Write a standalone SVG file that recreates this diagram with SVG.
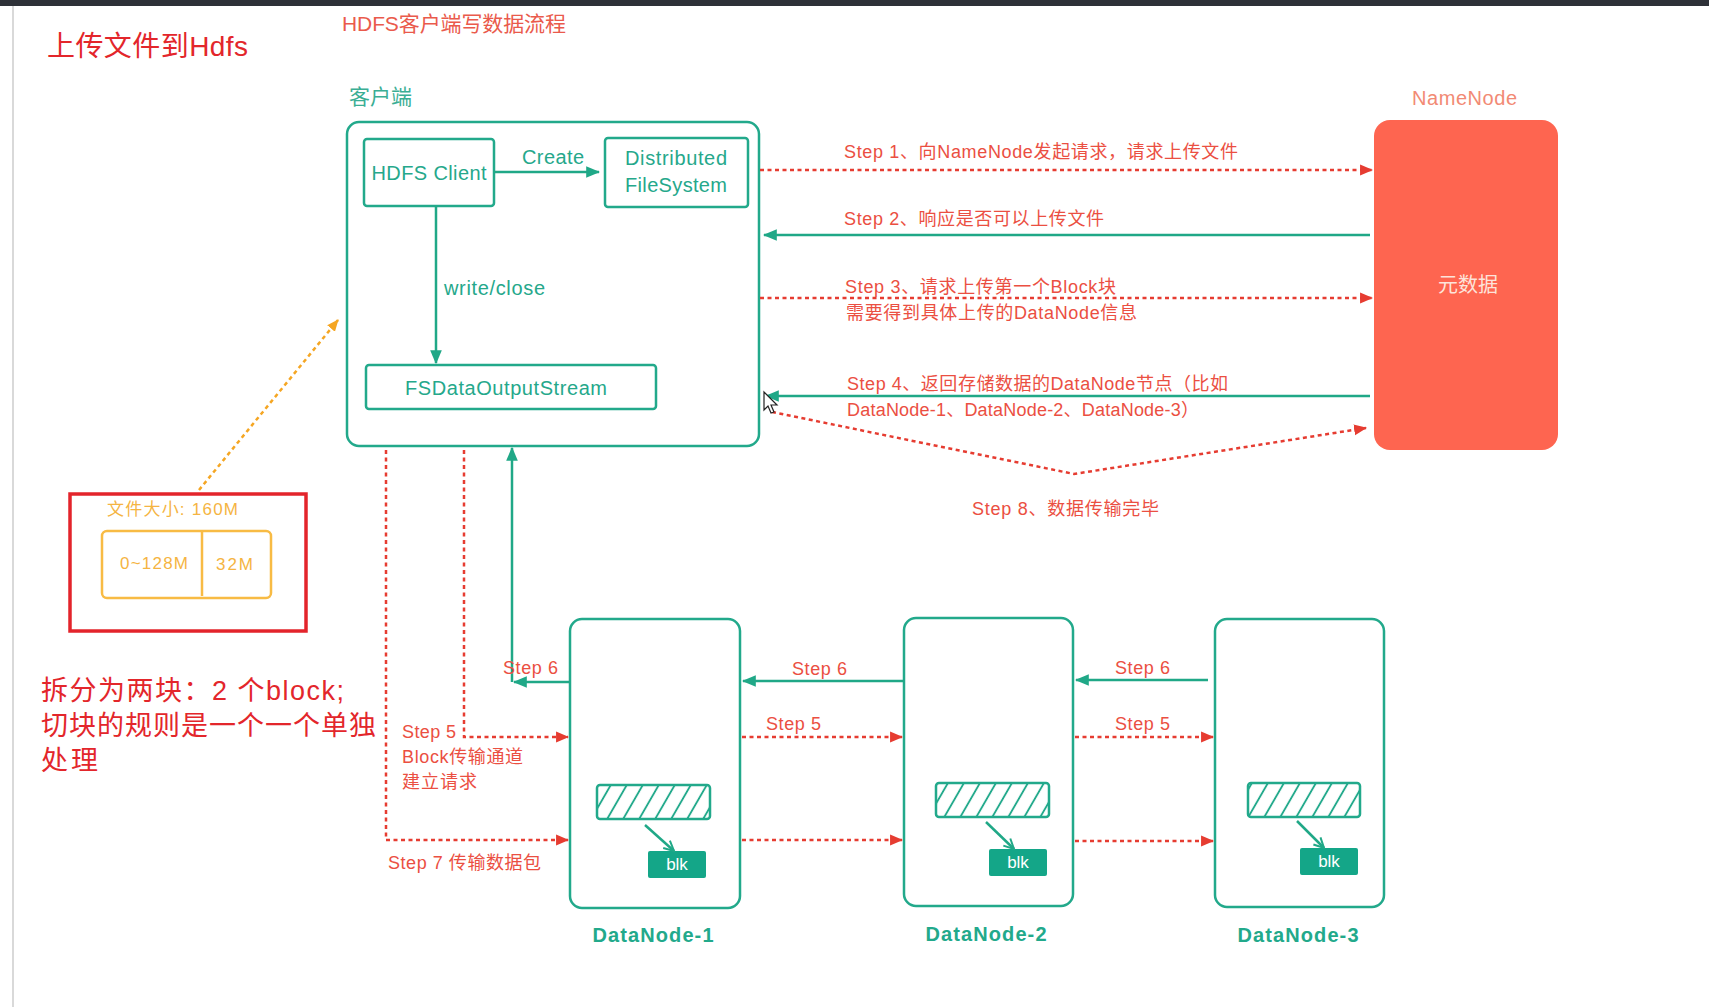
<svg xmlns="http://www.w3.org/2000/svg" width="1709" height="1007" viewBox="0 0 1709 1007">
<style>
  text { font-family: "Liberation Sans", "Noto Sans CJK SC", sans-serif; }
  .box { fill: #ffffff; stroke: #22a98b; stroke-width: 2.5; }
  .tl { fill: #25a88b; font-size: 20px; }
  .teal { fill: none; stroke: #20a887; stroke-width: 2.5; }
  .red { fill: none; stroke: #e63c31; stroke-width: 2.5; stroke-dasharray: 4 3.5; }
  .lbl { fill: #eb4f42; font-size: 18px; }
  .dn { fill: #22a98b; font-size: 20px; font-weight: bold; text-anchor: middle; }
  .hatch { fill: url(#hatch); stroke: #22a98b; stroke-width: 2.5; }
  .blk { fill: #14a688; }
  .blkt { fill: #ffffff; font-size: 17px; text-anchor: middle; }
</style>
<defs>
  <marker id="ta" markerUnits="userSpaceOnUse" markerWidth="14" markerHeight="14" viewBox="0 0 12 12" refX="11" refY="6" orient="auto">
    <path d="M0,1 L12,6 L0,11 Z" fill="#20a887"/>
  </marker>
  <marker id="ra" markerUnits="userSpaceOnUse" markerWidth="13" markerHeight="13" viewBox="0 0 12 12" refX="11" refY="6" orient="auto">
    <path d="M0,1 L12,6 L0,11 Z" fill="#e63c31"/>
  </marker>
  <marker id="oa" markerUnits="userSpaceOnUse" markerWidth="12" markerHeight="12" viewBox="0 0 12 12" refX="11" refY="6" orient="auto">
    <path d="M0,1 L12,6 L0,11 Z" fill="#f5a623"/>
  </marker>
  <marker id="to" markerUnits="userSpaceOnUse" markerWidth="12" markerHeight="12" viewBox="0 0 12 12" refX="11" refY="6" orient="auto">
    <path d="M1,1 L11,6 L1,11" fill="none" stroke="#20a887" stroke-width="2"/>
  </marker>
  <pattern id="hatch" patternUnits="userSpaceOnUse" width="16" height="16" patternTransform="skewX(-30)">
    <line x1="8" y1="0" x2="8" y2="16" stroke="#22a98b" stroke-width="2.2"/>
  </pattern>
</defs>

<rect x="0" y="0" width="1709" height="1007" fill="#ffffff"/>
<rect x="0" y="0" width="1709" height="6" fill="#2e3138"/>
<line x1="13" y1="6" x2="13" y2="1007" stroke="#d9d9d9" stroke-width="2"/>

<text x="47" y="56" font-size="28" fill="#e3262b" textLength="201">上传文件到Hdfs</text>
<text x="342" y="31" font-size="21" fill="#ea5a4c" textLength="224">HDFS客户端写数据流程</text>

<g id="client">
  <text x="349" y="104" font-size="21" fill="#3aae94" textLength="63">客户端</text>
  <rect class="box" x="347" y="122" width="412" height="324" rx="12"/>
</g>
<g id="hdfs-client">
  <rect class="box" x="364" y="139" width="130" height="67" rx="3"/>
  <text class="tl" x="429" y="180" text-anchor="middle" textLength="115">HDFS Client</text>
</g>
<g id="dfs">
  <rect class="box" x="605" y="138" width="143" height="69" rx="3"/>
  <text class="tl" x="676" y="165" text-anchor="middle" textLength="102">Distributed</text>
  <text class="tl" x="676" y="192" text-anchor="middle" textLength="102">FileSystem</text>
</g>
<g id="fsdos">
  <rect class="box" x="366" y="365" width="290" height="44" rx="3"/>
  <text class="tl" x="506" y="395" text-anchor="middle" textLength="202">FSDataOutputStream</text>
</g>

<g id="namenode">
  <text x="1412" y="105" font-size="20" fill="#f28a74" textLength="105">NameNode</text>
  <rect x="1374" y="120" width="184" height="330" rx="16" fill="#fe6550"/>
  <text x="1468" y="292" font-size="20" fill="#fde3da" text-anchor="middle">元数据</text>
</g>

<g id="file">
  <rect x="70" y="494" width="236" height="137" fill="none" stroke="#e3242b" stroke-width="3.5"/>
  <text x="107" y="515" font-size="17" fill="#f5b442" textLength="131">文件大小: 160M</text>
  <rect x="102" y="531" width="169" height="67" rx="5" fill="none" stroke="#f8bb44" stroke-width="2.5"/>
  <line x1="202" y1="532" x2="202" y2="596" stroke="#f8bb44" stroke-width="2.5"/>
  <text x="120" y="569" font-size="17" fill="#f5b442" textLength="68">0~128M</text>
  <text x="216" y="570" font-size="17" fill="#f5b442" textLength="37">32M</text>
</g>

<g id="note">
  <text x="41" y="700" font-size="27" fill="#e3262b" textLength="303">拆分为两块：2 个block;</text>
  <text x="41" y="735" font-size="27" fill="#e3262b" textLength="335">切块的规则是一个一个单独</text>
  <text x="41" y="770" font-size="27" fill="#e3262b" textLength="57">处理</text>
</g>

<g id="datanode-1">
  <rect class="box" x="570" y="619" width="170" height="289" rx="12"/>
  <rect class="hatch" x="597" y="785" width="113" height="34" rx="3"/>
  <rect class="blk" x="648" y="851" width="58" height="27" rx="2"/>
  <text class="blkt" x="677" y="870">blk</text>
  <text class="dn" x="653" y="942" textLength="121">DataNode-1</text>
</g>
<g id="datanode-2">
  <rect class="box" x="904" y="618" width="169" height="288" rx="12"/>
  <rect class="hatch" x="936" y="783" width="113" height="34" rx="3"/>
  <rect class="blk" x="989" y="849" width="58" height="27" rx="2"/>
  <text class="blkt" x="1018" y="868">blk</text>
  <text class="dn" x="986" y="941" textLength="121">DataNode-2</text>
</g>
<g id="datanode-3">
  <rect class="box" x="1215" y="619" width="169" height="288" rx="12"/>
  <rect class="hatch" x="1248" y="783" width="112" height="34" rx="3"/>
  <rect class="blk" x="1300" y="848" width="58" height="27" rx="2"/>
  <text class="blkt" x="1329" y="867">blk</text>
  <text class="dn" x="1298" y="942" textLength="121">DataNode-3</text>
</g>

<g id="connectors">
  <line class="teal" x1="494" y1="172" x2="599" y2="172" marker-end="url(#ta)"/>
  <text class="tl" x="522" y="164" textLength="62">Create</text>
  <line class="teal" x1="436" y1="206" x2="436" y2="363" marker-end="url(#ta)"/>
  <text class="tl" x="444" y="295" textLength="101">write/close</text>

  <line class="red" x1="760" y1="170" x2="1372" y2="170" marker-end="url(#ra)"/>
  <text class="lbl" x="844" y="158" textLength="394">Step 1、向NameNode发起请求，请求上传文件</text>
  <line class="teal" x1="1370" y1="235" x2="764" y2="235" marker-end="url(#ta)"/>
  <text class="lbl" x="844" y="225" textLength="260">Step 2、响应是否可以上传文件</text>
  <line class="red" x1="760" y1="298" x2="1372" y2="298" marker-end="url(#ra)"/>
  <text class="lbl" x="845" y="293" textLength="271">Step 3、请求上传第一个Block块</text>
  <text class="lbl" x="846" y="319" textLength="291">需要得到具体上传的DataNode信息</text>
  <line class="teal" x1="1370" y1="396" x2="766" y2="396" marker-end="url(#ta)"/>
  <text class="lbl" x="847" y="390" textLength="381">Step 4、返回存储数据的DataNode节点（比如</text>
  <text class="lbl" x="847" y="416" textLength="352">DataNode-1、DataNode-2、DataNode-3）</text>
  <polyline class="red" points="772,412 1074,474 1366,428" marker-end="url(#ra)"/>
  <text class="lbl" x="972" y="515" textLength="187">Step 8、数据传输完毕</text>

  <line x1="199" y1="490" x2="338" y2="320" stroke="#f5a623" stroke-width="2.5" stroke-dasharray="4 3.5" marker-end="url(#oa)"/>

  <line class="teal" x1="570" y1="682" x2="514" y2="682" marker-end="url(#ta)"/>
  <line class="teal" x1="512" y1="682" x2="512" y2="448" marker-end="url(#ta)"/>
  <text class="lbl" x="503" y="674" textLength="55">Step 6</text>
  <line class="teal" x1="904" y1="681" x2="743" y2="681" marker-end="url(#ta)"/>
  <text class="lbl" x="792" y="675" textLength="55">Step 6</text>
  <line class="teal" x1="1208" y1="680" x2="1076" y2="680" marker-end="url(#ta)"/>
  <text class="lbl" x="1115" y="674" textLength="55">Step 6</text>

  <polyline class="red" points="464,450 464,737 568,737" marker-end="url(#ra)"/>
  <text class="lbl" x="402" y="738" textLength="54">Step 5</text>
  <text class="lbl" x="402" y="763" textLength="121">Block传输通道</text>
  <text class="lbl" x="402" y="788" textLength="75">建立请求</text>
  <line class="red" x1="742" y1="737" x2="902" y2="737" marker-end="url(#ra)"/>
  <text class="lbl" x="766" y="730" textLength="55">Step 5</text>
  <line class="red" x1="1075" y1="737" x2="1213" y2="737" marker-end="url(#ra)"/>
  <text class="lbl" x="1115" y="730" textLength="55">Step 5</text>

  <polyline class="red" points="386,450 386,840 568,840" marker-end="url(#ra)"/>
  <text class="lbl" x="388" y="869" textLength="153">Step 7 传输数据包</text>
  <line class="red" x1="742" y1="840" x2="902" y2="840" marker-end="url(#ra)"/>
  <line class="red" x1="1075" y1="841" x2="1213" y2="841" marker-end="url(#ra)"/>

  <line class="teal" x1="645" y1="825" x2="674" y2="851" stroke-width="2" marker-end="url(#to)"/>
  <line class="teal" x1="986" y1="822" x2="1014" y2="849" stroke-width="2" marker-end="url(#to)"/>
  <line class="teal" x1="1297" y1="821" x2="1324" y2="848" stroke-width="2" marker-end="url(#to)"/>
</g>

<path d="M764,392 L764,410 L768,406 L771,413 L774,412 L771,405 L777,405 Z" fill="#ffffff" stroke="#222222" stroke-width="1.2"/>
</svg>
